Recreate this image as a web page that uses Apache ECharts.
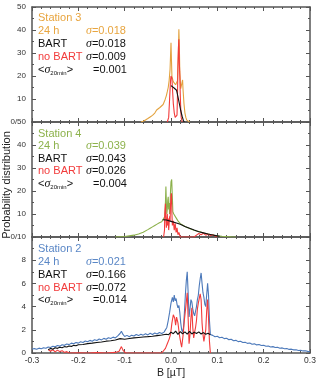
<!DOCTYPE html>
<html>
<head>
<meta charset="utf-8">
<script src="https://cdn.jsdelivr.net/npm/echarts@6/dist/echarts.min.js"></script>
<style>
  html, body { margin: 0; padding: 0; background: #fff; }
  #chart { width: 320px; height: 383px; }
</style>
</head>
<body>
<div id="chart"></div>
<script>
// x ticks (B in uT) and panel y ranges
const xTicks = [-0.3, -0.2, -0.1, 0.0, 0.1, 0.2, 0.3];
const yMaxTop = 50, yMaxMid = 50, yMaxBot = 10;

// legend texts per panel
const stations = ['Station 3', 'Station 4', 'Station 2'];
const sigma24h = ['0.018', '0.039', '0.021'];
const sigmaBart = ['0.018', '0.043', '0.166'];
const sigmaNoBart = ['0.009', '0.026', '0.072'];
const sigma20min = ['0.001', '0.004', '0.014'];

// Station 3
const st3_24h = [[-0.065,0],[-0.06,0.3],[-0.055,0.9],[-0.05,1.5],[-0.045,2.2],[-0.04,2.9],[-0.035,3.9],[-0.031,5.2],[-0.027,5.9],[-0.024,6.3],[-0.02,7.0],[-0.017,7.6],[-0.013,9.6],[-0.01,11.5],[-0.008,13.2],[-0.006,15.0],[-0.004,18.0],[-0.002,23],[0.0,34.5],[0.001,27],[0.002,20],[0.004,18.2],[0.006,17.2],[0.008,16.6],[0.010,16.2],[0.012,15.6],[0.014,18],[0.016,31],[0.017,40.3],[0.018,33],[0.019,22],[0.021,14.5],[0.023,15.2],[0.025,18.3],[0.026,14],[0.028,8],[0.030,4],[0.032,2],[0.034,0.8],[0.036,0.2],[0.04,0]];
const st3_bart = [[0.0,15.8],[0.002,15.4],[0.004,15.2],[0.006,14.9],[0.008,14.8],[0.010,14.3],[0.012,13.8],[0.015,11],[0.018,8],[0.021,5],[0.024,2.5],[0.027,0.5],[0.029,0]];
const st3_nobart = [[-0.008,0],[-0.005,2],[-0.003,10],[-0.001,18],[0.0,20],[0.002,19],[0.003,15],[0.005,8],[0.007,4],[0.009,2],[0.011,2.5],[0.012,1.8],[0.013,3],[0.014,12],[0.015,24],[0.016,32],[0.017,36],[0.018,26],[0.019,20],[0.020,12],[0.021,6],[0.022,2],[0.024,0]];

// Station 4
const st4_24h = [[-0.12,0],[-0.1,0.2],[-0.09,0.5],[-0.08,0.8],[-0.07,1.3],[-0.06,2.1],[-0.05,3.2],[-0.045,3.8],[-0.04,4.4],[-0.035,5.0],[-0.03,5.6],[-0.025,6.2],[-0.02,6.6],[-0.016,6.8],[-0.013,9],[-0.012,15],[-0.011,21.9],[-0.010,15],[-0.009,10],[-0.008,12],[-0.007,16],[-0.006,17.5],[-0.005,12],[-0.004,14.8],[-0.003,10],[-0.002,14],[-0.001,20],[0.0,24],[0.0015,25],[0.003,17],[0.004,11],[0.006,10],[0.008,9.5],[0.010,10],[0.012,8],[0.015,7],[0.018,6.2],[0.02,5.8],[0.025,5.2],[0.03,4.6],[0.035,4.1],[0.04,3.7],[0.045,3.3],[0.05,2.9],[0.055,2.6],[0.058,3.0],[0.061,2.4],[0.065,2.0],[0.07,1.7],[0.075,1.5],[0.08,1.3],[0.085,1.1],[0.09,0.9],[0.1,0.5],[0.11,0.3],[0.12,0.15],[0.13,0.05],[0.14,0]];
const st4_bart = [[-0.018,7.5],[-0.01,7.4],[0.0,6.8],[0.01,6.2],[0.02,5.5],[0.03,4.6],[0.04,3.8],[0.05,3.0],[0.06,2.3],[0.07,1.8],[0.08,1.3],[0.09,0.9],[0.1,0.5],[0.105,0.3]];
const st4_nobart = [[-0.016,0],[-0.014,3],[-0.0135,10],[-0.012,14.5],[-0.011,8],[-0.010,4],[-0.009,6],[-0.008,10],[-0.007,5],[-0.006,8],[-0.005,3],[-0.004,6],[-0.003,9],[-0.002,7],[-0.001,14],[0.0,18],[0.001,19],[0.002,10],[0.003,5],[0.005,7],[0.007,3],[0.009,6],[0.011,2],[0.013,4],[0.015,1],[0.017,2],[0.02,0],[0.05,0],[0.055,0.8],[0.06,1.5],[0.065,1.0],[0.07,1.6],[0.075,0.8],[0.08,1.2],[0.085,0.6],[0.09,1.0],[0.095,0.4],[0.1,0]];

// Station 2
const st2_24h = [[-0.300,0.32],[-0.295,0.38],[-0.290,0.33],[-0.285,0.42],[-0.280,0.37],[-0.275,0.46],[-0.270,0.41],[-0.265,0.52],[-0.260,0.47],[-0.255,0.58],[-0.250,0.53],[-0.245,0.64],[-0.240,0.59],[-0.235,0.71],[-0.230,0.66],[-0.225,0.78],[-0.220,0.72],[-0.215,0.85],[-0.210,0.79],[-0.205,0.91],[-0.200,0.85],[-0.195,0.97],[-0.190,0.90],[-0.185,1.03],[-0.180,0.97],[-0.175,1.09],[-0.170,1.02],[-0.165,1.15],[-0.160,1.08],[-0.155,1.21],[-0.150,1.13],[-0.145,1.26],[-0.140,1.19],[-0.135,1.32],[-0.130,1.25],[-0.125,1.37],[-0.120,1.30],[-0.115,1.48],[-0.110,1.68],[-0.107,1.88],[-0.104,1.62],[-0.100,1.42],[-0.095,1.52],[-0.090,1.40],[-0.085,1.54],[-0.080,1.46],[-0.075,1.60],[-0.070,1.50],[-0.065,1.62],[-0.060,1.54],[-0.055,1.66],[-0.050,1.56],[-0.045,1.70],[-0.040,1.60],[-0.035,1.72],[-0.030,1.64],[-0.025,1.76],[-0.020,1.68],[-0.015,1.80],[-0.012,1.74],[-0.009,2.2],[-0.006,2.8],[-0.003,3.5],[0.0,4.3],[0.003,4.8],[0.005,4.4],[0.007,5.0],[0.009,4.5],[0.011,4.7],[0.013,4.2],[0.015,3.9],[0.017,4.1],[0.019,3.5],[0.021,2.6],[0.023,2.0],[0.025,1.8],[0.027,2.2],[0.029,3.5],[0.031,5.0],[0.033,6.2],[0.035,7.0],[0.037,5.2],[0.039,3.1],[0.041,3.8],[0.043,4.6],[0.045,4.4],[0.047,3.8],[0.049,3.4],[0.051,3.2],[0.053,3.3],[0.055,4.0],[0.057,4.6],[0.059,5.0],[0.061,5.8],[0.063,6.4],[0.065,6.9],[0.067,6.0],[0.069,5.2],[0.071,4.8],[0.073,4.2],[0.075,4.0],[0.077,5.0],[0.079,6.0],[0.081,5.0],[0.083,2.8],[0.085,1.6],[0.090,1.52],[0.095,1.40],[0.100,1.44],[0.105,1.32],[0.110,1.36],[0.115,1.24],[0.120,1.27],[0.125,1.15],[0.130,1.18],[0.135,1.06],[0.140,1.09],[0.145,0.98],[0.150,1.01],[0.155,0.90],[0.160,0.93],[0.165,0.83],[0.170,0.86],[0.175,0.76],[0.180,0.79],[0.185,0.70],[0.190,0.73],[0.195,0.64],[0.200,0.67],[0.205,0.58],[0.210,0.61],[0.215,0.52],[0.220,0.55],[0.225,0.47],[0.230,0.49],[0.235,0.41],[0.240,0.44],[0.245,0.36],[0.250,0.38],[0.255,0.31],[0.260,0.33],[0.265,0.27],[0.270,0.28],[0.275,0.22],[0.280,0.24],[0.285,0.18],[0.290,0.19],[0.295,0.14],[0.300,0.13]];
const st2_bart = [[-0.265,0.28],[-0.26,0.40],[-0.255,0.33],[-0.25,0.45],[-0.245,0.40],[-0.24,0.49],[-0.235,0.45],[-0.23,0.55],[-0.225,0.51],[-0.22,0.60],[-0.215,0.57],[-0.21,0.66],[-0.205,0.62],[-0.2,0.71],[-0.19,0.73],[-0.18,0.81],[-0.17,0.85],[-0.16,0.91],[-0.15,0.95],[-0.14,1.02],[-0.13,1.06],[-0.12,1.12],[-0.11,1.24],[-0.1,1.19],[-0.09,1.25],[-0.08,1.30],[-0.07,1.34],[-0.06,1.38],[-0.05,1.41],[-0.04,1.45],[-0.03,1.50],[-0.02,1.55],[-0.01,1.62],[-0.005,1.58],[0.0,1.80],[0.005,1.66],[0.01,1.88],[0.015,1.60],[0.02,1.84],[0.025,1.66],[0.03,1.82],[0.035,1.62],[0.04,1.86],[0.045,1.64],[0.05,1.80],[0.055,1.68],[0.06,1.82],[0.065,1.64],[0.07,1.76],[0.075,1.62],[0.08,1.70],[0.085,1.58]];
const st2_nobart = [[-0.265,0.30],[-0.26,0.15],[-0.255,0.28],[-0.25,0.10],[-0.245,0.25],[-0.24,0.12],[-0.235,0.20],[-0.23,0.05],[-0.225,0.12],[-0.22,0.0],[-0.2,0.02],[-0.18,0.0],[-0.16,0.03],[-0.14,0.0],[-0.12,0.05],[-0.112,0.15],[-0.107,0.55],[-0.103,0.2],[-0.098,0.0],[-0.02,0.0],[-0.012,0.4],[-0.008,0.8],[-0.004,1.2],[-0.001,1.6],[0.002,2.6],[0.005,3.3],[0.008,3.0],[0.010,2.4],[0.012,3.1],[0.015,2.6],[0.018,1.6],[0.021,0.9],[0.023,0.5],[0.026,1.5],[0.029,2.9],[0.032,4.0],[0.035,5.2],[0.037,3.0],[0.039,0.8],[0.041,1.6],[0.043,3.0],[0.045,3.9],[0.047,2.2],[0.049,1.3],[0.051,1.8],[0.053,2.2],[0.055,2.8],[0.057,3.8],[0.059,4.3],[0.061,4.7],[0.063,5.1],[0.065,4.6],[0.067,2.6],[0.069,1.6],[0.071,1.0],[0.073,0.9],[0.075,2.0],[0.077,3.6],[0.079,4.6],[0.081,3.0],[0.083,1.0],[0.085,0.0]];

const colors = ['#E3A23E', '#8BB04A', '#4C79BA'];
const txtColors = ['#E8A53F', '#8DB24C', '#5A87C6'];
const red = '#F23B3B';
const axisCol = '#555';
const font = 'Liberation Sans, Arial, sans-serif';

const grids = [
  { left: 32, width: 278, top: 7, height: 115 },
  { left: 32, width: 278, top: 122, height: 115 },
  { left: 32, width: 278, top: 237, height: 116 }
];

const fmtX = v => (Math.abs(v) < 1e-9 ? '0.0' : v.toFixed(1));

function xAx(i, pos, labels) {
  return {
    type: 'value', gridIndex: i, position: pos,
    min: xTicks[0], max: xTicks[xTicks.length - 1], interval: 0.1,
    axisLine: { show: true, onZero: false, lineStyle: { color: axisCol, width: 1.5 } },
    axisTick: { show: true, inside: true, length: 4, lineStyle: { color: axisCol } },
    minorTick: { show: true, splitNumber: 5, length: 2, lineStyle: { color: axisCol } },
    splitLine: { show: false },
    axisLabel: { show: labels, formatter: fmtX, fontSize: 8.5, color: '#333', margin: 3, fontFamily: font }
  };
}
function yAx(i, pos, max, interval, fmt) {
  return {
    type: 'value', gridIndex: i, position: pos,
    min: 0, max: max, interval: interval,
    axisLine: { show: true, onZero: false, lineStyle: { color: axisCol, width: 1.5 } },
    axisTick: { show: true, inside: true, length: 4, lineStyle: { color: axisCol } },
    minorTick: { show: true, splitNumber: 2, length: 2, lineStyle: { color: axisCol } },
    splitLine: { show: false },
    axisLabel: { show: !!fmt, formatter: fmt, fontSize: 8, color: '#333', margin: 6, fontFamily: font }
  };
}

const xAxes = [xAx(0, 'bottom', false), xAx(1, 'bottom', false), xAx(2, 'bottom', true),
               xAx(0, 'top', false), xAx(1, 'top', false), xAx(2, 'top', false)];
const yAxes = [
  yAx(0, 'left', yMaxTop, 10, v => (v === 0 ? '0/50' : String(v))),
  yAx(1, 'left', yMaxMid, 10, v => (v === 0 ? '0/10' : v === 50 ? '' : String(v))),
  yAx(2, 'left', yMaxBot, 2, v => (v === 10 ? '' : String(v))),
  yAx(0, 'right', yMaxTop, 10, null),
  yAx(1, 'right', yMaxMid, 10, null),
  yAx(2, 'right', yMaxBot, 2, null)
];

function line(data, i, color, z) {
  return {
    type: 'line', data: data, xAxisIndex: i, yAxisIndex: i,
    showSymbol: false, symbol: 'none', z: z, animation: false,
    lineStyle: { color: color, width: 1.1 }
  };
}

const series = [
  line(st3_24h, 0, colors[0], 2), line(st3_nobart, 0, red, 3), line(st3_bart, 0, '#111', 4),
  line(st4_24h, 1, colors[1], 2), line(st4_nobart, 1, red, 3), line(st4_bart, 1, '#111', 4),
  line(st2_24h, 2, colors[2], 2), line(st2_nobart, 2, red, 3), line(st2_bart, 2, '#111', 4)
];

// legend text blocks
const rows = [
  [17.5, 30.5, 43.5, 56.5, 69.5],
  [133.5, 146, 158.5, 171, 183.5],
  [248.5, 261.5, 274.5, 287.5, 300]
];
const rich = {
  s: { fontFamily: 'Liberation Serif, DejaVu Serif, serif', fontStyle: 'italic', fontSize: 12 },
  sub: { fontSize: 6, verticalAlign: 'bottom', padding: [7, 0, 0, 0] }
};
const graphics = [];
function txt(x, y, text, fill, extra) {
  graphics.push(Object.assign({
    type: 'text', x: x, y: y, z: 10,
    style: { text: text, fill: fill, font: '11px ' + font, textVerticalAlign: 'middle', rich: rich }
  }, extra || {}));
}
for (let k = 0; k < 3; k++) {
  const r = rows[k];
  txt(38, r[0], stations[k], txtColors[k]);
  txt(38, r[1], '24 h', txtColors[k]);
  txt(86, r[1], '{s|σ}=' + sigma24h[k], txtColors[k]);
  txt(38, r[2], 'BART', '#111');
  txt(86, r[2], '{s|σ}=' + sigmaBart[k], '#111');
  txt(38, r[3], 'no BART', red);
  txt(86, r[3], '{s|σ}=' + sigmaNoBart[k], '#111');
  txt(38, r[4], '<{s|σ}{sub|20min}>', '#111');
  txt(93, r[4], '=' + sigma20min[k], '#111');
}
graphics.push({
  type: 'text', x: 7, y: 185, rotation: Math.PI / 2,
  style: { text: 'Probability distribution', fill: '#222', font: '11px ' + font, textAlign: 'center', textVerticalAlign: 'middle' }
});
graphics.push({
  type: 'text', x: 171, y: 373,
  style: { text: 'B [µT]', fill: '#222', font: '10.5px ' + font, textAlign: 'center', textVerticalAlign: 'middle' }
});

const chart = echarts.init(document.getElementById('chart'), null, { renderer: 'canvas' });
chart.setOption({
  animation: false,
  backgroundColor: '#fff',
  grid: grids,
  xAxis: xAxes,
  yAxis: yAxes,
  series: series,
  graphic: graphics
});
</script>
</body>
</html>
